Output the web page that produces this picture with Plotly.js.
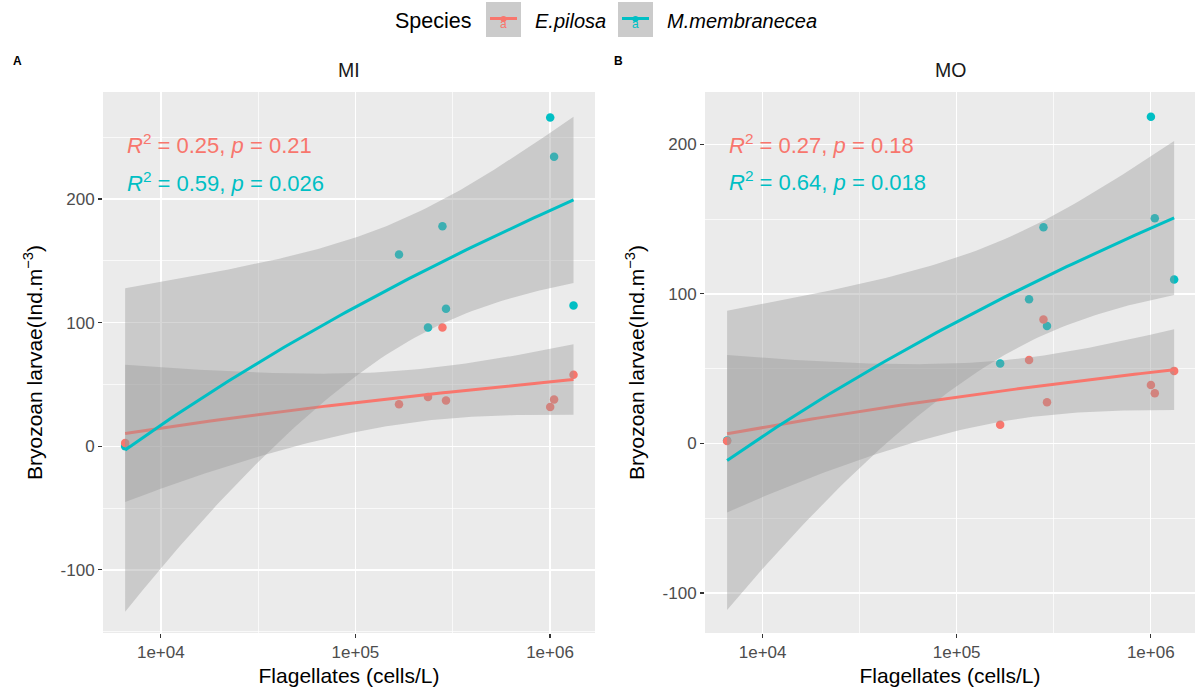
<!DOCTYPE html>
<html>
<head>
<meta charset="utf-8">
<script src="https://cdn.plot.ly/plotly-3.0.1.min.js"></script>
<style>
html, body { margin: 0; padding: 0; background: #ffffff; }
#chart { width: 1195px; height: 691px; }
</style>
</head>
<body>
<div id="chart"></div>
<script>
// ---------------- data ----------------
const species = ['E.pilosa', 'M.membranecea'];
const speciesColors = ['#F8766D', '#00BFC4'];
const panelNames = ['MI', 'MO'];
const panelLetters = ['A', 'B'];

// Flagellates (cells/L) — same sampling points in both panels
const flagellates = [6560, 167500, 236000, 280000, 292000, 1002000, 1049000, 1320000];

// Bryozoan larvae (Ind.m^-3)
const ePilosaMI = [2.7, 33.9, 39.8, 96.1, 37.1, 31.7, 37.9, 57.9];
const mMembraneceaMI = [0, 155.0, 96.1, 177.9, 111.2, 265.9, 234.2, 113.8];
const ePilosaMO = [1.7, 12.5, 55.7, 82.8, 27.5, 39.0, 33.5, 48.5];
const mMembraneceaMO = [2.0, 53.5, 96.3, 144.5, 78.5, 218.3, 150.5, 109.5];

const statLabelsMI = ['<i>R</i><sup>2</sup> = 0.25, <i>p</i> = 0.21', '<i>R</i><sup>2</sup> = 0.59, <i>p</i> = 0.026'];
const statLabelsMO = ['<i>R</i><sup>2</sup> = 0.27, <i>p</i> = 0.18', '<i>R</i><sup>2</sup> = 0.64, <i>p</i> = 0.018'];
const statLabelYMI = [244.6, 213.4];
const statLabelYMO = [200.3, 175.7];

const xTickVals = [1e4, 1e5, 1e6];
const xTickText = ['1e+04', '1e+05', '1e+06'];
const xMinorVals = [31622.78, 316227.8];
const yTickVals = [-100, 0, 100, 200];
const yTickText = ['-100', '0', '100', '200'];

const xTitle = 'Flagellates (cells/L)';
const yTitle = 'Bryozoan larvae(Ind.m<sup>\u22123</sup>)';
const legendTitle = 'Species';

// ---------------- layout geometry ----------------
const W = 1195, H = 691;
const FONT = 'Liberation Sans, Arial, Helvetica, sans-serif';
const px = v => v / W;
const py = v => 1 - v / H;
const panelX = [[103, 595], [705, 1195]];
const panelY = [92, 633];
const xRanges = [[3.703, 6.231], [3.703, 6.228]];
const yRanges = [[-151, 286.5], [-126.7, 234.9]];

// ---------------- smoother: lm(y ~ log(x)) on log10 x scale, 95% CI ----------------
const T975_DF6 = 2.446912;
function smooth(xs, ys, nOut) {
  const u = xs.map(v => Math.log10(v));
  const z = u.map(v => Math.log(v));
  const n = xs.length;
  const zm = z.reduce((a, b) => a + b, 0) / n;
  const ym = ys.reduce((a, b) => a + b, 0) / n;
  let sxx = 0, sxy = 0;
  for (let i = 0; i < n; i++) { sxx += (z[i] - zm) ** 2; sxy += (z[i] - zm) * (ys[i] - ym); }
  const b = sxy / sxx, a = ym - b * zm;
  let sse = 0;
  for (let i = 0; i < n; i++) sse += (ys[i] - a - b * z[i]) ** 2;
  const s2 = sse / (n - 2);
  const umin = Math.min(...u), umax = Math.max(...u);
  const ox = [], fit = [], lo = [], hi = [];
  for (let i = 0; i < nOut; i++) {
    const uu = umin + (umax - umin) * i / (nOut - 1);
    const zz = Math.log(uu);
    const f = a + b * zz;
    const se = Math.sqrt(s2 * (1 / n + (zz - zm) ** 2 / sxx));
    ox.push(Math.pow(10, uu)); fit.push(f);
    lo.push(f - T975_DF6 * se); hi.push(f + T975_DF6 * se);
  }
  return { x: ox, fit, lo, hi };
}

const panelData = [[ePilosaMI, mMembraneceaMI], [ePilosaMO, mMembraneceaMO]];
const traces = [];
panelData.forEach((groups, p) => {
  const xa = p === 0 ? 'x' : 'x2', ya = p === 0 ? 'y' : 'y2';
  // points: M.membranecea first so that E.pilosa points sit on top (as in the reference)
  [1, 0].forEach(g => {
    traces.push({
      type: 'scatter', mode: 'markers', x: flagellates, y: groups[g], xaxis: xa, yaxis: ya,
      marker: { color: speciesColors[g], size: 8.5, line: { width: 0 } },
      showlegend: false, hoverinfo: 'x+y', name: species[g]
    });
  });
  groups.forEach((ys, g) => {
    const s = smooth(flagellates, ys, 80);
    traces.push({
      type: 'scatter', mode: 'lines', xaxis: xa, yaxis: ya,
      x: s.x.concat(s.x.slice().reverse()),
      y: s.hi.concat(s.lo.slice().reverse()),
      fill: 'toself', fillcolor: 'rgba(153,153,153,0.4)',
      line: { width: 0, color: 'rgba(0,0,0,0)' },
      showlegend: false, hoverinfo: 'skip'
    });
    traces.push({
      type: 'scatter', mode: 'lines', xaxis: xa, yaxis: ya,
      x: s.x, y: s.fit,
      line: { color: speciesColors[g], width: 3 },
      showlegend: false, hoverinfo: 'skip', name: species[g]
    });
  });
});

function xAxis(p) {
  return {
    type: 'log', domain: [px(panelX[p][0]), px(panelX[p][1])], range: xRanges[p],
    anchor: p === 0 ? 'y' : 'y2',
    tickmode: 'array', tickvals: xTickVals, ticktext: xTickText,
    ticks: 'outside', ticklen: 4, tickwidth: 1.1, tickcolor: '#333333',
    tickfont: { family: FONT, size: 17, color: '#4D4D4D' },
    showgrid: true, gridcolor: '#FFFFFF', gridwidth: 1.4,
    minor: { tickmode: 'array', tickvals: xMinorVals, showgrid: true, gridcolor: '#FFFFFF', gridwidth: 0.7, ticks: '' },
    zeroline: false, showline: false, fixedrange: true,
    title: { text: xTitle, font: { family: FONT, size: 21, color: '#000000' }, standoff: 6 }
  };
}
function yAxis(p) {
  return {
    domain: [py(panelY[1]), py(panelY[0])], range: yRanges[p],
    anchor: p === 0 ? 'x' : 'x2',
    tickmode: 'array', tickvals: yTickVals, ticktext: yTickText,
    ticks: 'outside', ticklen: 4, tickwidth: 1.1, tickcolor: '#333333',
    tickfont: { family: FONT, size: 17, color: '#4D4D4D' },
    showgrid: true, gridcolor: '#FFFFFF', gridwidth: 1.4,
    minor: { tickmode: 'linear', tick0: 0, dtick: 50, showgrid: true, gridcolor: '#FFFFFF', gridwidth: 0.7, ticks: '' },
    zeroline: false, showline: false, fixedrange: true,
    title: { text: yTitle, font: { family: FONT, size: 21, color: '#000000' }, standoff: 12 }
  };
}

const annotations = [];
const shapes = [];
// panel strip titles and letters
panelNames.forEach((nm, p) => {
  annotations.push({ xref: 'paper', yref: 'paper', x: px((panelX[p][0] + panelX[p][1]) / 2), y: py(70),
    text: nm, showarrow: false, xanchor: 'center', yanchor: 'middle',
    font: { family: FONT, size: 19.5, color: '#1A1A1A' } });
  annotations.push({ xref: 'paper', yref: 'paper', x: px(p === 0 ? 11 : 612), y: py(61),
    text: '<b>' + panelLetters[p] + '</b>', showarrow: false, xanchor: 'left', yanchor: 'middle',
    font: { family: FONT, size: 12, color: '#000000' } });
});
// regression statistics
[[statLabelsMI, statLabelYMI], [statLabelsMO, statLabelYMO]].forEach((pair, p) => {
  pair[0].forEach((lbl, g) => {
    annotations.push({ xref: p === 0 ? 'x' : 'x2', yref: p === 0 ? 'y' : 'y2',
      x: Math.log10(Math.min(...flagellates)), y: pair[1][g], text: lbl, showarrow: false,
      xanchor: 'left', yanchor: 'middle', font: { family: FONT, size: 22, color: speciesColors[g] } });
  });
});
// legend (ggplot-style keys)
annotations.push({ xref: 'paper', yref: 'paper', x: px(393), y: py(21), text: legendTitle, showarrow: false,
  xanchor: 'left', yanchor: 'middle', font: { family: FONT, size: 21.5, color: '#000000' } });
const keyX = [486, 618];
const labelX = [533, 665];
species.forEach((sp, g) => {
  const kx = keyX[g];
  shapes.push({ type: 'rect', xref: 'paper', yref: 'paper', x0: px(kx), x1: px(kx + 35), y0: py(2), y1: py(37),
    fillcolor: '#CBCBCB', line: { width: 0 } });
  shapes.push({ type: 'line', xref: 'paper', yref: 'paper', x0: px(kx + 4), x1: px(kx + 31), y0: py(18.5), y1: py(18.5),
    line: { color: speciesColors[g], width: 3 } });
  shapes.push({ type: 'circle', xref: 'paper', yref: 'paper', x0: px(kx + 14.5), x1: px(kx + 20.5), y0: py(16), y1: py(22),
    fillcolor: speciesColors[g], line: { width: 0 } });
  annotations.push({ xref: 'paper', yref: 'paper', x: px(kx + 17.5), y: py(23.5), text: 'a', showarrow: false,
    xanchor: 'center', yanchor: 'middle', font: { family: FONT, size: 12, color: speciesColors[g] } });
  annotations.push({ xref: 'paper', yref: 'paper', x: px(labelX[g]), y: py(21), text: '<i>' + sp + '</i>', showarrow: false,
    xanchor: 'left', yanchor: 'middle', font: { family: FONT, size: 20, color: '#000000' } });
});

const layout = {
  width: W, height: H,
  margin: { l: 0, r: 0, t: 0, b: 0, pad: 0 },
  paper_bgcolor: '#FFFFFF', plot_bgcolor: '#EBEBEB',
  font: { family: FONT },
  showlegend: false,
  xaxis: xAxis(0), yaxis: yAxis(0), xaxis2: xAxis(1), yaxis2: yAxis(1),
  annotations, shapes
};

Plotly.newPlot('chart', traces, layout, { staticPlot: true, displayModeBar: false });
</script>
</body>
</html>
